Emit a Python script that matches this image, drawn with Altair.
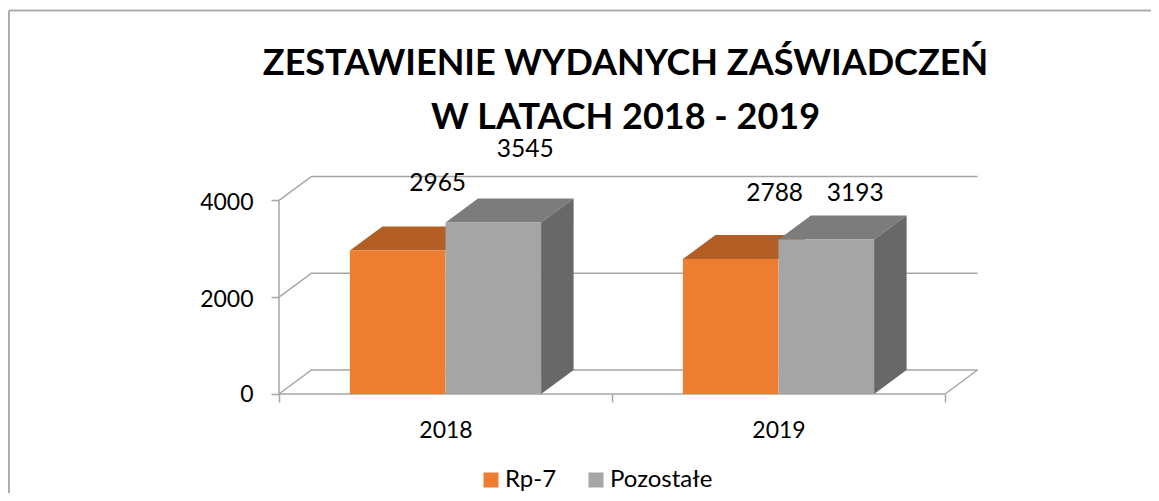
import altair as alt
import pandas as pd

categories = ["2018", "2019"]
series = ["Rp-7", "Pozostałe"]
rp7_values = [2965, 2788]
other_values = [3545, 3193]
y_ticks = [0, 2000, 4000]
title_lines = ["ZESTAWIENIE WYDANYCH ZAŚWIADCZEŃ", "W LATACH 2018 - 2019"]
# hand-placed data labels in the reference: shift from the bar's top-centre
label_shift_x = {"Rp-7": [0.12, 0.132], "Pozostałe": [0.096, 0.087]}
label_shift_y = {"Rp-7": [1384, 1344], "Pozostałe": [1488, 930]}

FONT = "Lato"
GRID = "#A6A6A6"
FRONT = ["#ED7D31", "#A5A5A5"]
TOP = ["#B35E24", "#7C7C7C"]
SIDE = "#686868"

# layout: pixels of the page mapped to data units
VIEW_L, VIEW_T, W, H = 8, 8, 1143, 485
X0, PX_PER_CAT = 279, 333
Y0, PX_PER_UNIT = 394, 0.0484
DEPTH_X = 32.5 / PX_PER_CAT
DEPTH_Y = 24 / PX_PER_UNIT
BAR_W = 95.6 / PX_PER_CAT
BAR_START = (1 - 2 * BAR_W) / 2

X_MIN, X_MAX = (VIEW_L - X0) / PX_PER_CAT, (VIEW_L + W - X0) / PX_PER_CAT
Y_MIN, Y_MAX = (Y0 - VIEW_T - H) / PX_PER_UNIT, (Y0 - VIEW_T) / PX_PER_UNIT
x_scale = alt.Scale(domain=[X_MIN, X_MAX], nice=False, zero=False)
y_scale = alt.Scale(domain=[Y_MIN, Y_MAX], nice=False, zero=False)

fronts, tops, sides, labels = [], [], [], []
for s, (name, vals) in enumerate(zip(series, [rp7_values, other_values])):
    for c, v in enumerate(vals):
        a = c + BAR_START + s * BAR_W
        b = a + BAR_W
        fronts.append(dict(series=name, cat=categories[c], a=a, b=b, v=v))
        for xx, lo, hi in [(a, v, v), (a + DEPTH_X, v, v + DEPTH_Y), (b, v, v + DEPTH_Y), (b + DEPTH_X, v + DEPTH_Y, v + DEPTH_Y)]:
            tops.append(dict(series=name, cat=categories[c], x=xx, lo=lo, hi=hi))
        sides.append(dict(series=name, cat=categories[c], x=b, lo=0, hi=v))
        sides.append(dict(series=name, cat=categories[c], x=b + DEPTH_X, lo=DEPTH_Y, hi=v + DEPTH_Y))
        labels.append(dict(text=str(v), x=(a + b) / 2 + label_shift_x[name][c], y=v + label_shift_y[name][c]))
fronts, tops, sides, labels = map(pd.DataFrame, (fronts, tops, sides, labels))

wall_rows = []
for t in y_ticks:
    wall_rows += [dict(k=f"g{t}", i=0, x=0, y=t), dict(k=f"g{t}", i=1, x=DEPTH_X, y=t + DEPTH_Y),
                  dict(k=f"g{t}", i=2, x=2 + DEPTH_X, y=t + DEPTH_Y)]
wall_rows += [dict(k="end", i=0, x=2, y=0), dict(k="end", i=1, x=2 + DEPTH_X, y=DEPTH_Y)]
walls = pd.DataFrame(wall_rows)
frame = pd.DataFrame([dict(x=0, x2=2, y=0, y2=0), dict(x=0, x2=0, y=0, y2=4000)])
# outer chart border: only its top and left edges show in the reference
border_px = 1.0 / PX_PER_CAT
border_py = 2.5 / PX_PER_UNIT
border = pd.DataFrame([
    dict(x=X_MIN + border_px, x2=X_MAX, y=Y_MAX - border_py, y2=Y_MAX - border_py),
    dict(x=X_MIN + border_px, x2=X_MIN + border_px, y=Y_MIN, y2=Y_MAX - border_py),
])

X = lambda f="x": alt.X(f"{f}:Q", scale=x_scale, axis=None)
Y = lambda f="y": alt.Y(f"{f}:Q", scale=y_scale, axis=None)

tick_axis = alt.Chart(pd.DataFrame(dict(x=[0, 1, 2]))).mark_rule(opacity=0).encode(
    x=alt.X("x:Q", scale=x_scale, axis=alt.Axis(
        values=[0, 1, 2], labels=False, domain=False, grid=False, title=None, orient="bottom",
        offset=Y0 - VIEW_T - H, tickSize=8, tickColor=GRID, tickWidth=1.5)))
label_axis = alt.Chart(pd.DataFrame(dict(x=[0.5, 1.5]))).mark_rule(opacity=0).encode(
    x=alt.X("x:Q", scale=x_scale, axis=alt.Axis(
        values=[0.5, 1.5], ticks=False, domain=False, grid=False, title=None, orient="bottom",
        offset=Y0 - VIEW_T - H, labelPadding=25, labelFont=FONT, labelFontSize=23, labelColor="#000000",
        labelExpr="datum.value < 1 ? '%s' : '%s'" % tuple(categories))))
y_axis = alt.Chart(pd.DataFrame(dict(y=y_ticks))).mark_rule(opacity=0).encode(
    y=alt.Y("y:Q", scale=y_scale, axis=alt.Axis(
        values=y_ticks, domain=False, grid=False, title=None, orient="left",
        offset=VIEW_L - X0, tickSize=8, tickColor=GRID, tickWidth=1.5, labelPadding=18,
        labelFont=FONT, labelFontSize=23, labelColor="#000000", labelOverlap=False, format="d",
        labelOffset={"condition": {"test": "datum.value > 0", "value": 2}, "value": 0})))

border_layer = alt.Chart(border).mark_rule(color="#ADADAD", strokeWidth=2).encode(
    x=X(), x2="x2:Q", y=Y(), y2="y2:Q")
wall_layer = alt.Chart(walls).mark_line(color=GRID, strokeWidth=1.5).encode(
    x=X(), y=Y(), detail="k:N", order="i:Q")
frame_layer = alt.Chart(frame).mark_rule(color=GRID, strokeWidth=1.5).encode(
    x=X(), x2="x2:Q", y=Y(), y2="y2:Q")

color = alt.Color("series:N", scale=alt.Scale(domain=series, range=FRONT), legend=alt.Legend(
    title=None, orient="none", direction="horizontal", legendX=471, legendY=460,
    symbolType="square", symbolSize=225, symbolStrokeWidth=0, labelFont=FONT, labelFontSize=24,
    labelColor="#000000", labelOffset=2, columnPadding=27, padding=0))


def top(i):
    d = tops[tops.series == series[i]]
    return alt.Chart(d).mark_area(color=TOP[i], interpolate="linear").encode(
        x=X(), y=alt.Y("lo:Q", scale=y_scale, axis=None, stack=None), y2="hi:Q", detail="cat:N")


def front(i):
    d = fronts[fronts.series == series[i]]
    return alt.Chart(d).mark_bar(stroke=None).encode(
        x=X("a"), x2="b:Q", y=alt.Y("v:Q", scale=y_scale, axis=None), y2=alt.datum(0), color=color)


side = alt.Chart(sides[sides.series == series[1]]).mark_area(color=SIDE, interpolate="linear").encode(
    x=X(), y=alt.Y("lo:Q", scale=y_scale, axis=None, stack=None), y2="hi:Q", detail="cat:N")

text = alt.Chart(labels).mark_text(font=FONT, fontSize=24.5, color="#000000", baseline="middle").encode(
    x=X(), y=Y(), text="text:N")

chart = alt.layer(
    tick_axis, label_axis, y_axis, border_layer, wall_layer, frame_layer,
    top(0), front(0), top(1), front(1), side, text,
).resolve_axis(x="independent", y="independent").properties(
    width=W, height=H,
    padding=0,
    autosize=alt.AutoSizeParams(type="none"),
    background="#FFFFFF",
    title=alt.TitleParams(
        text=title_lines, font=FONT, fontSize=36, fontWeight="bold", color="#000000",
        anchor="middle", frame="group", dx=46, offset=-165, lineHeight=54, baseline="bottom"),
).configure_view(stroke=None)

chart.save("out.html", embed_options={"renderer": "svg", "actions": False})
